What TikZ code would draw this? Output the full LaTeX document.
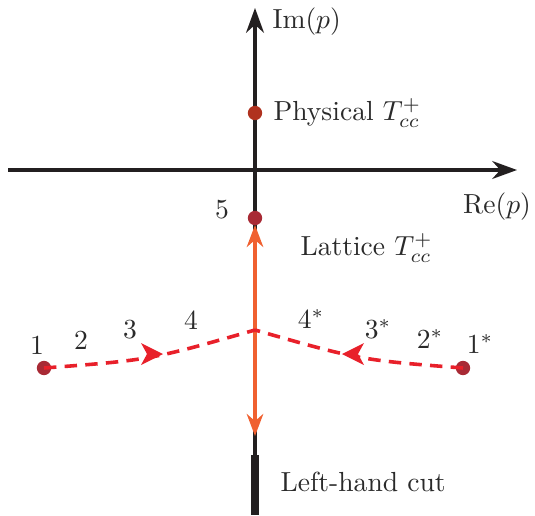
\documentclass[tikz,border=0pt]{standalone}
\usetikzlibrary{arrows.meta}
\definecolor{axisc}{HTML}{231F20}
\definecolor{dotc}{HTML}{A82A35}
\definecolor{physc}{HTML}{B0321F}
\definecolor{orangec}{HTML}{F06030}
\definecolor{dashc}{HTML}{E8202A}
\definecolor{textc}{HTML}{2A2A2A}
\tikzset{
  axis/.style={draw=axisc, line width=1.1pt, -{Stealth[length=9pt,width=6.5pt]}},
  pt/.style={circle, fill=#1, inner sep=0pt, minimum size=5.2pt},
  lbl/.style={text=textc, inner sep=0pt},
  path red/.style={draw=dashc, line width=1.3pt, dash pattern=on 4.5pt off 3pt},
  orangeline/.style={draw=orangec, line width=1.1pt},
}
\begin{document}
\begin{tikzpicture}[x=0.3625pt, y=-0.3625pt]
\useasboundingbox (0,0) rectangle (535,515);
% coordinates
\coordinate (O) at (255,170);
\coordinate (xl) at (8,170);
\coordinate (xr) at (517,170);
\coordinate (yb) at (255,455);
\coordinate (yt) at (255,8);
\coordinate (cutb) at (255,515);
\coordinate (apex) at (255,330);
\coordinate (otop) at (255,225);
\coordinate (obot) at (255,436);
% axes
\draw[axis] (xl) -- (xr);
\draw[axis] (yb) -- (yt);
\draw[draw=axisc, line width=2.9pt] (yb) -- (cutb);
% labels of axes
\node[lbl, anchor=west] (im) at (272,22) {$\mathrm{Im}(p)$};
\node[lbl] (re) at (497,207) {$\mathrm{Re}(p)$};
% orange line
\draw[orangeline, -{Stealth[length=8pt,width=6pt]}] (apex) -- (otop);
\draw[orangeline, -{Stealth[length=8pt,width=6pt]}] (apex) -- (obot);
% dots
\node[pt=physc] (phys) at (255,113) {};
\node[pt=dotc] (five) at (255,218) {};
\node[pt=dotc] (one) at (44,368) {};
\node[pt=dotc] (onestar) at (463,368) {};
% dashed paths
\draw[path red] (one.center) .. controls (150,360) .. (apex);
\draw[path red] (onestar.center) .. controls (360,360) .. (apex);
\fill[dashc] (163,354) -- ++(-22,-11) -- ++(6,11) -- ++(-6,11) -- cycle;
\fill[dashc] (342,354) -- ++(22,-11) -- ++(-6,11) -- ++(6,11) -- cycle;
% labels
\node[lbl, anchor=west] (physl) at (273,113) {Physical $T_{cc}^{+}$};
\node[lbl, anchor=west] (latl) at (300,248) {Lattice $T_{cc}^{+}$};
\node[lbl, anchor=west] (cutl) at (280,482) {Left-hand cut};
\node[lbl] (l5) at (222,210) {5};
\node[lbl] (l1) at (37,345) {1};
\node[lbl] (l2) at (81,340) {2};
\node[lbl] (l3) at (130,330) {3};
\node[lbl] (l4) at (191,320) {4};
\node[lbl] (l4s) at (311,319) {4$^*$};
\node[lbl] (l3s) at (378,329) {3$^*$};
\node[lbl] (l2s) at (430,339) {2$^*$};
\node[lbl] (l1s) at (480,344) {1$^*$};
\end{tikzpicture}
\end{document}
